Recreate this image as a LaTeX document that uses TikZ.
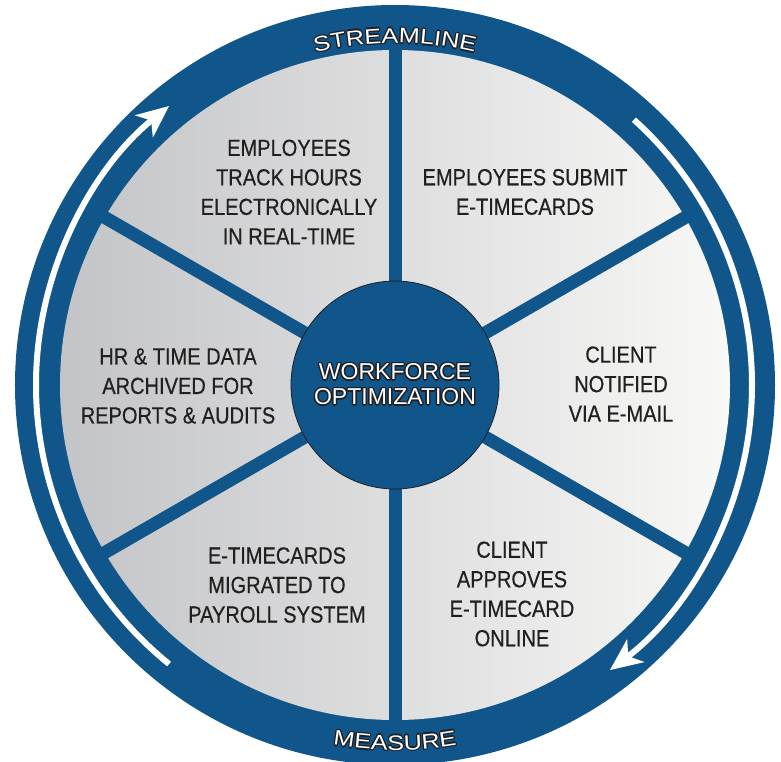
\documentclass[tikz,border=0pt]{standalone}
\usepackage{fontspec}
\setmainfont{Liberation Sans}
\newfontfamily\narrowfont[FakeStretch=0.86,FakeBold=0.5]{Liberation Sans}
\newfontfamily\ringfont[FakeStretch=1.2]{Liberation Sans}
\usepackage{contour}
\contourlength{1.3pt}
\usetikzlibrary{arrows.meta,decorations.text}
\definecolor{wheelblue}{RGB}{16,86,138}
\definecolor{sectorgray}{RGB}{195,196,199}
\definecolor{sectorlight}{RGB}{248,248,246}
\definecolor{inkdark}{RGB}{35,31,32}
\definecolor{edgedark}{RGB}{30,32,38}
\newcommand{\ringsize}{\ringfont\fontsize{21}{21}\selectfont}
\newcommand{\hubline}[1]{\contour{edgedark}{#1}}

\begin{document}
\begin{tikzpicture}[x=1pt,y=1pt,
  stepnote/.style={align=center,text=inkdark,font=\narrowfont\fontsize{23.3}{29.5}\selectfont},
  spoke/.style={wheelblue,line width=13},
  flowarrow/.style={white,line width=6,-{Stealth[length=32pt,width=28pt,inset=9pt]}},
  ringlabel/.style 2 args={decorate,decoration={text along path,text align=center,text color=#2,text={|\ringsize|#1}}}]
\useasboundingbox (-395,-376) rectangle (386,385);
\fill[wheelblue] (0,0) circle[radius=380];
\shade[left color=sectorgray,right color=sectorlight] (0,0) circle[radius=335];
\foreach \a in {30,90,...,330}
  \draw[spoke] (0,0) -- (\a:337);
\node[circle,fill=wheelblue,draw=edgedark,line width=0.8,minimum size=208,inner sep=0,
  align=center,text=white,font=\fontsize{23}{25}\selectfont] (hub) at (0,0)
  {\hubline{WORKFORCE}\\\hubline{OPTIMIZATION}};
% the six steps
\foreach \nm/\x/\y/\txt in %
{tracking/-106/193/{EMPLOYEES\\TRACK HOURS\\ELECTRONICALLY\\IN REAL-TIME},
 submitting/130/193/{EMPLOYEES SUBMIT\\E-TIMECARDS},
 notifying/226/1/{CLIENT\\NOTIFIED\\VIA E-MAIL},
 approving/117/-209/{CLIENT\\APPROVES\\E-TIMECARD\\ONLINE},
 migrating/-118/-200/{E-TIMECARDS\\MIGRATED TO\\PAYROLL SYSTEM},
 archiving/-217/-1/{HR \& TIME DATA\\ARCHIVED FOR\\REPORTS \& AUDITS}} {
   \node[stepnote] (\nm) at (\x,\y) {\txt};
}
\draw[flowarrow] (231:359) arc[start angle=231,end angle=129,radius=359];
\draw[flowarrow] (48:357) arc[start angle=48,end angle=-53,radius=357];
% outlined ring words
\foreach \a in {0,45,...,315} {
   \path[ringlabel={STREAMLINE}{edgedark},shift={(\a:1.3)}] (120:342) arc[start angle=120,end angle=60,radius=342];
   \path[ringlabel={MEASURE}{edgedark},shift={(\a:1.3)}] (240:365) arc[start angle=240,end angle=300,radius=365];
}
\path[ringlabel={STREAMLINE}{white}] (120:342) arc[start angle=120,end angle=60,radius=342];
\path[ringlabel={MEASURE}{white}] (240:365) arc[start angle=240,end angle=300,radius=365];
\end{tikzpicture}
\end{document}
